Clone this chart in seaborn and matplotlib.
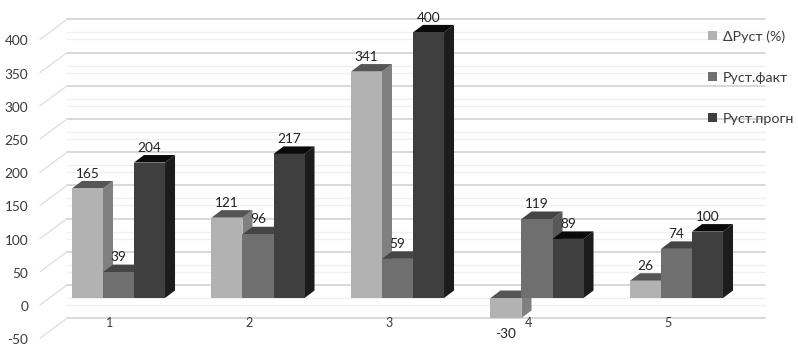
import numpy as np
import pandas as pd
import matplotlib
matplotlib.use("Agg")
import matplotlib.pyplot as plt
import seaborn as sns
from matplotlib.patches import Polygon

categories = ["1", "2", "3", "4", "5"]
series_names = ["ΔРуст (%)", "Руст.факт", "Руст.прогн"]
delta_values = [165, 121, 341, -30, 26]
fact_values = [39, 96, 59, 119, 74]
prog_values = [204, 217, 400, 89, 100]
y_ticks = [-50, 0, 50, 100, 150, 200, 250, 300, 350, 400]

front_cols = ["#b2b2b2", "#6f6f6f", "#3f3f3f"]
top_cols = ["#555555", "#454545", "#0a0a0a"]
side_cols = ["#808080", "#585858", "#1c1c1c"]

W, H = 798, 355
px_x = 139.5
px_y = 0.664

df = pd.DataFrame({"cat": categories * 3,
                   "series": np.repeat(series_names, 5),
                   "val": delta_values + fact_values + prog_values})

sns.set_style("white")
plt.rcParams["font.family"] = ["Lato", "Open Sans", "DejaVu Sans"]

fig = plt.figure(figsize=(W / 100, H / 100), dpi=100)
ax = fig.add_axes([0, 0, 1, 1])
sns.barplot(data=df, x="cat", y="val", hue="series", hue_order=series_names,
            palette=front_cols, width=0.667, gap=0, saturation=1, errorbar=None,
            ax=ax, linewidth=0, legend=True)
ax.set_xlim(-118.5 / px_x, (W - 118.5) / px_x)
ax.set_ylim(-(H - 298) / px_y, 298 / px_y)
ax.set_xlabel("")
ax.set_ylabel("")
sns.despine(ax=ax, left=True, bottom=True)

# depth of the fake 3d, data units
dx = 10 / px_x
dy = 7.5 / px_y
wall_off = 13 / px_y
tick_off = -12

# back wall and left wall
x0, x1 = (67 - 118.5) / px_x, (765 - 118.5) / px_x
x_front = (40 - 118.5) / px_x
for v in y_ticks:
    ax.plot([x0, x1], [v + wall_off] * 2, color="#d6d6d6", lw=1.3, zorder=0.5)
    ax.plot([x_front, x0], [v + wall_off - 20 / px_y, v + wall_off], color="#e0e0e0", lw=1.0, zorder=0.5)
    for off in (-13 / px_y, -20 / px_y):
        if v > -50:
            ax.plot([x0, x1], [v + wall_off + off] * 2, color="#f0f0f0", lw=1.0, zorder=0.4)

# tops and sides, from the bars seaborn drew
z = 3
for cat in range(len(categories)):
    for s, cont in enumerate(ax.containers):
        bar = cont[cat]
        left = bar.get_x()
        right = left + bar.get_width()
        y0, y1 = sorted([bar.get_y(), bar.get_y() + bar.get_height()])
        ax.add_patch(Polygon([(right, y0), (right + dx, y0 + dy), (right + dx, y1 + dy), (right, y1)],
                             fc=side_cols[s], lw=0, zorder=z))
        ax.add_patch(Polygon([(left, y1), (left + dx, y1 + dy), (right + dx, y1 + dy), (right, y1)],
                             fc=top_cols[s], lw=0, zorder=z))
        bar.set_zorder(z + 0.5)
        z += 1

# value labels
for s, cont in enumerate(ax.containers):
    for cat, bar in enumerate(cont):
        xc = bar.get_x() + bar.get_width() / 2
        h = bar.get_height()
        if h < 0:
            ax.text(xc, h - 24, f"{h:.0f}", ha="center", va="center",
                    fontsize=9.8, color="#222222", zorder=200)
        else:
            ax.text(xc, h + dy + 11, f"{h:.0f}", ha="center", va="center",
                    fontsize=9.8, color="#222222", zorder=200)

ax.set_yticks(np.array(y_ticks) + tick_off, labels=y_ticks)
ax.tick_params(axis="y", length=0, pad=-20.5, labelsize=9.8, labelcolor="#3a3a3a")
ax.set_xticks(np.arange(5) - 8.5 / px_x, labels=categories)
ax.tick_params(axis="x", length=0, pad=-27.5, labelsize=9, labelcolor="#3a3a3a")

leg = ax.legend(loc="upper left", bbox_to_anchor=(708 / W, 1 - 30 / H), bbox_transform=fig.transFigure,
                frameon=False, fontsize=10.3, handlelength=0.6, handleheight=0.6,
                handletextpad=0.45, labelspacing=2.03, borderpad=0, borderaxespad=0,
                labelcolor="#3a3a3a")
leg.set_zorder(300)

fig.savefig("out.png", dpi=100, facecolor="white")
